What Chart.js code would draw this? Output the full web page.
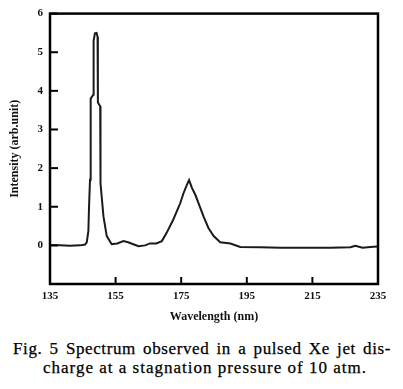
<!DOCTYPE html>
<html>
<head>
<meta charset="utf-8">
<script src="https://cdn.jsdelivr.net/npm/chart.js@4.4.1/dist/chart.umd.min.js"></script>
<style>
	body { margin: 0; background: #fff; }
	#wrap { position: relative; width: 403px; height: 389px; }
	#caption { position: absolute; left: 0; top: 340px; width: 403px; font-family: 'Liberation Serif', serif; font-size: 17px; color: #000; line-height: 18.5px; -webkit-text-stroke: 0.25px #000; }
	#line1 { margin-left: 13px; width: 378px; text-align: justify; text-align-last: justify; letter-spacing: 0.6px; white-space: nowrap; }
	#line2 { margin-left: 43px; letter-spacing: 1px; white-space: nowrap; }
</style>
</head>
<body>
<div id="wrap">
	<canvas id="spectrum" width="403" height="330"></canvas>
	<div id="caption">
		<div id="line1">Fig. 5 Spectrum observed in a pulsed Xe jet dis-</div>
		<div id="line2">charge at a stagnation pressure of 10 atm.</div>
	</div>
</div>
<script>
// values
const wavelength = [135.0, 138.1, 141.1, 144.2, 145.7, 146.2, 146.7, 146.9, 147.2, 147.4, 148.2, 148.3, 148.7, 149.2, 149.5, 149.6, 150.3, 150.4, 151.3, 152.3, 153.8, 155.5, 157.4, 158.8, 160.4, 162.0, 164.0, 165.5, 167.4, 169.1, 170.6, 172.6, 174.7, 175.7, 176.7, 177.4, 178.3, 179.3, 180.3, 181.8, 183.3, 184.9, 186.9, 190.0, 193.0, 199.1, 205.2, 211.3, 220.5, 226.6, 228.1, 230.3, 232.7, 234.8];
const intensity = [0.00, 0.00, -0.01, 0.00, 0.02, 0.08, 0.37, 1.0, 1.7, 3.8, 3.9, 5.3, 5.49, 5.5, 5.4, 3.7, 3.6, 1.6, 0.75, 0.24, 0.03, 0.05, 0.11, 0.08, 0.03, -0.02, 0.0, 0.05, 0.05, 0.11, 0.33, 0.67, 1.09, 1.35, 1.56, 1.69, 1.48, 1.31, 1.09, 0.75, 0.45, 0.24, 0.08, 0.05, -0.04, -0.05, -0.06, -0.06, -0.06, -0.05, -0.01, -0.06, -0.04, -0.03];
const xTicks = [135, 155, 175, 195, 215, 235];
const yTicks = [-1, 0, 1, 2, 3, 4, 5, 6];

const tickFont = { family: 'Liberation Serif', size: 11, weight: 'bold' };
const titleFont = { family: 'Liberation Serif', size: 12, weight: 'bold' };

// box around the plot plus inward tick marks
const frame = {
	id: 'frame',
	afterDraw(chart) {
		const a = chart.chartArea;
		const ctx = chart.ctx;
		const xs = chart.scales.x;
		const ys = chart.scales.y;
		ctx.save();
		ctx.strokeStyle = '#000';
		ctx.lineWidth = 2.5;
		ctx.strokeRect(a.left, a.top, a.right - a.left, a.bottom - a.top);
		ctx.lineWidth = 2;
		xTicks.forEach(v => {
			const px = xs.getPixelForValue(v);
			ctx.beginPath();
			ctx.moveTo(px, a.bottom);
			ctx.lineTo(px, a.bottom - 7);
			ctx.stroke();
		});
		yTicks.forEach(v => {
			const py = ys.getPixelForValue(v);
			ctx.beginPath();
			ctx.moveTo(a.left, py);
			ctx.lineTo(a.left + 8, py);
			ctx.stroke();
		});
		ctx.restore();
	}
};

new Chart(document.getElementById('spectrum'), {
	type: 'line',
	data: {
		datasets: [
			{
				data: wavelength.map((w, i) => ({ x: w, y: intensity[i] })),
				borderColor: '#1a1a1a',
				borderWidth: 2,
				pointRadius: 0,
				tension: 0,
				fill: false
			}
		]
	},
	options: {
		responsive: false,
		animation: false,
		layout: { padding: { top: 13, right: 25, left: 0, bottom: 0 } },
		plugins: { legend: { display: false }, tooltip: { enabled: false } },
		scales: {
			x: {
				type: 'linear',
				min: 135,
				max: 235,
				afterBuildTicks: scale => { scale.ticks = xTicks.map(v => ({ value: v })) },
				afterFit: scale => { scale.height = 46 },
				grid: { display: false, drawTicks: false },
				border: { display: false },
				ticks: { font: tickFont, color: '#111', padding: 6, maxRotation: 0, autoSkip: false },
				title: { display: true, text: 'Wavelength (nm)', font: titleFont, color: '#111', padding: { top: 0, bottom: 6 } }
			},
			y: {
				min: -1,
				max: 6,
				afterBuildTicks: scale => { scale.ticks = yTicks.map(v => ({ value: v })) },
				afterFit: scale => { scale.width = 50 },
				grid: { display: false, drawTicks: false },
				border: { display: false },
				ticks: { font: tickFont, color: '#111', padding: 7, callback: v => v < 0 ? '' : v },
				title: { display: true, text: 'Intensity (arb.unit)', font: titleFont, color: '#111', padding: { top: 8, bottom: 0 } }
			}
		}
	},
	plugins: [frame]
});
</script>
</body>
</html>
